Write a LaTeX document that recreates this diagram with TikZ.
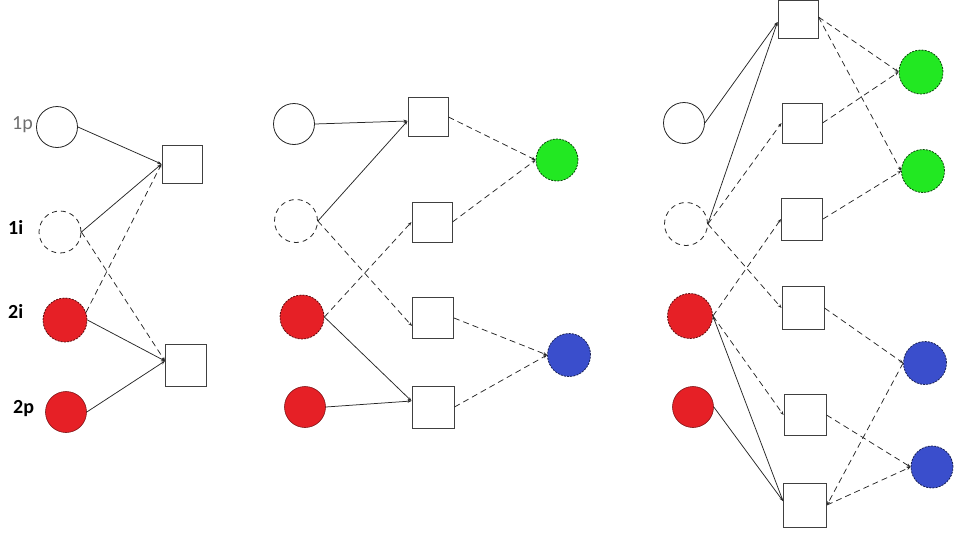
\documentclass[tikz,border=0pt]{standalone}
\usepackage{fontspec}
\setmainfont{Carlito}
\usetikzlibrary{arrows.meta}
\definecolor{myred}{RGB}{230,32,38}
\definecolor{mygreen}{RGB}{34,232,34}
\definecolor{myblue}{RGB}{58,78,204}
\definecolor{lblgray}{RGB}{110,110,110}
\begin{document}
\begin{tikzpicture}[x=1pt,y=-1pt,
  circ/.style={circle,inner sep=0pt,minimum size=42pt,draw=black!85,line width=0.8pt,fill=white},
  dcirc/.style={circ,dash pattern=on 5pt off 4pt},
  redd/.style={circ,fill=myred,draw=black!60!myred,dash pattern=on 2pt off 1.2pt},
  redc/.style={circ,fill=myred,draw=black!45!myred,line width=0.6pt},
  greenc/.style={circ,fill=mygreen,draw=black!70!mygreen,dash pattern=on 2pt off 1.2pt},
  bluec/.style={circ,fill=myblue,draw=black!60!myblue,dash pattern=on 2pt off 1.2pt},
  sqbox/.style={rectangle,draw=black!75,line width=1pt,fill=white,minimum width=40pt,minimum height=40pt,inner sep=0pt},
  con/.style={line width=0.75pt,draw=black!85,-{Stealth[length=4pt,width=3pt]}},
  dcon/.style={con,dash pattern=on 6pt off 4pt},
  lbl/.style={font=\fontsize{20}{22}\selectfont,anchor=mid west,inner sep=0pt}
]
\useasboundingbox (0,0) rectangle (955,533);
% ---------- left group ----------
\node[lbl,text=lblgray] (t1p) at (12,127) {1p};
\node[lbl,font=\fontsize{20}{22}\selectfont\bfseries] (t1i) at (8,232) {1i};
\node[lbl,font=\fontsize{20}{22}\selectfont\bfseries] (t2i) at (8,316) {2i};
\node[lbl,font=\fontsize{20}{22}\selectfont\bfseries] (t2p) at (13,411) {2p};
\node[circ,minimum size=41pt] (L1) at (57,127) {};
\node[dcirc] (L2) at (60,232) {};
\node[redd,minimum size=44pt] (L3) at (65,320) {};
\node[redc,minimum size=41pt] (L4) at (66,412) {};
\node[sqbox,minimum height=38pt] (Ls1) at (182,164) {};
\node[sqbox,minimum width=41pt,minimum height=42pt] (Ls2) at (186,365) {};
\draw[con] (L1.east) -- (Ls1.west);
\draw[con] (L2.east) -- (Ls1.west);
\draw[dcon] (L3.20) -- (Ls1.west);
\draw[dcon] (L2.east) -- ([yshift=4pt]Ls2.west);
\draw[con] (L3.east) -- ([yshift=4pt]Ls2.west);
\draw[con] (L4.east) -- ([yshift=4pt]Ls2.west);
% ---------- middle group ----------
\node[circ,minimum size=41pt] (M1) at (294,124) {};
\node[dcirc,minimum size=43pt] (M2) at (296,221) {};
\node[redd,minimum size=44pt] (M3) at (302,317) {};
\node[redc,minimum size=41pt] (M4) at (305,407) {};
\node[sqbox,minimum height=39pt] (Ms1) at (428,117) {};
\node[sqbox] (Ms2) at (432,222) {};
\node[sqbox,minimum width=41pt,minimum height=41pt] (Ms3) at (433,318) {};
\node[sqbox,minimum width=42pt,minimum height=42pt] (Ms4) at (433,407) {};
\node[greenc] (Mg) at (557,160) {};
\node[bluec,minimum size=43pt] (Mb) at (569,355) {};
\draw[con] (M1.east) -- ([yshift=-4pt]Ms1.west);
\draw[con] (M2.east) -- ([yshift=-4pt]Ms1.west);
\draw[dcon] (M2.east) -- ([yshift=-8pt]Ms3.west);
\draw[dcon] (M3.east) -- (Ms2.west);
\draw[con] (M3.east) -- ([yshift=6pt]Ms4.west);
\draw[con] (M4.east) -- ([yshift=6pt]Ms4.west);
\draw[dcon] (Ms1.east) -- (Mg.west);
\draw[dcon] (Ms2.east) -- (Mg.west);
\draw[dcon] (Ms3.east) -- (Mb.west);
\draw[dcon] (Ms4.east) -- (Mb.west);
% ---------- right group ----------
\node[circ,minimum size=41pt] (R1) at (684,123) {};
\node[dcirc,minimum size=43pt] (R2) at (686,224) {};
\node[redd,minimum size=45pt] (R3) at (690,316) {};
\node[redc,minimum size=41pt] (R4) at (693,407) {};
\node[sqbox,minimum height=38pt] (Rs1) at (798,19) {};
\node[sqbox] (Rs2) at (802,123) {};
\node[sqbox,minimum width=41pt,minimum height=42pt] (Rs3) at (802,219) {};
\node[sqbox,minimum width=42pt,minimum height=43pt] (Rs4) at (803,308) {};
\node[sqbox,minimum width=42pt,minimum height=41pt] (Rs5) at (805,415) {};
\node[sqbox,minimum width=43pt,minimum height=44pt] (Rs6) at (805,505) {};
\node[greenc,minimum size=44pt] (Rg1) at (921,72) {};
\node[greenc,minimum size=43pt] (Rg2) at (923,171) {};
\node[bluec,minimum size=43pt] (Rb1) at (925,363) {};
\node[bluec,minimum size=42pt] (Rb2) at (932,467) {};
\draw[con] (R1.east) -- ([yshift=-3pt]Rs1.west);
\draw[con] (R2.east) -- ([yshift=-3pt]Rs1.west);
\draw[dcon] (R2.east) -- (Rs2.west);
\draw[dcon] (R2.east) -- (Rs4.west);
\draw[dcon] (R3.east) -- (Rs3.west);
\draw[dcon] (R3.east) -- (Rs5.west);
\draw[con] ([yshift=4pt]Rs6.west) -- (R3.east);
\draw[con] (R4.east) -- ([yshift=4pt]Rs6.west);
\draw[dcon] ([yshift=2pt]Rs1.east) -- (Rg1.west);
\draw[dcon] ([yshift=2pt]Rs1.east) -- (Rg2.west);
\draw[dcon] (Rs2.east) -- (Rg1.west);
\draw[dcon] (Rs3.east) -- (Rg2.west);
\draw[dcon] (Rs4.east) -- (Rb1.west);
\draw[dcon] (Rs5.east) -- (Rb2.west);
\draw[dcon] (Rb1.west) -- (Rs6.east);
\draw[dcon] (Rs6.east) -- (Rb2.west);
\end{tikzpicture}
\end{document}
